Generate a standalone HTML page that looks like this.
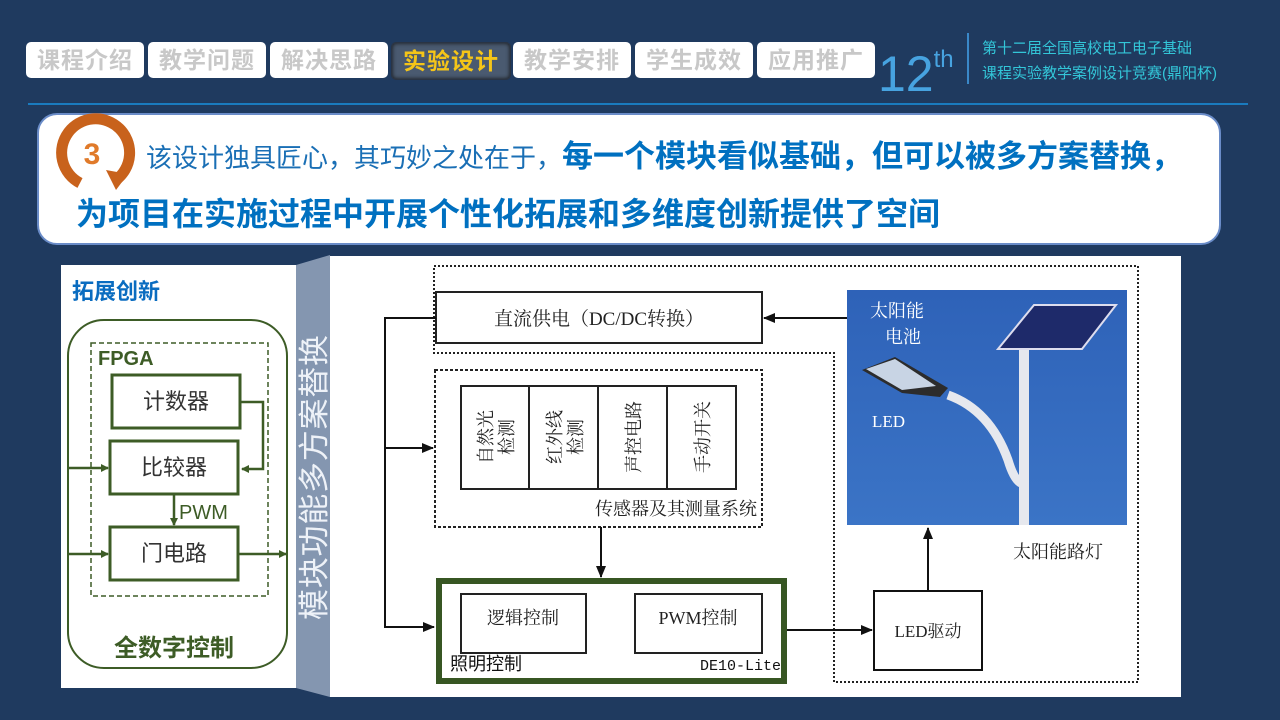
<!DOCTYPE html>
<html><head><meta charset="utf-8"><style>
html,body{margin:0;padding:0}
body{width:1280px;height:720px;background:#1f3a5f;overflow:hidden;position:relative;font-family:"Liberation Sans","Noto Sans CJK SC",sans-serif}
.tab{position:absolute;top:42px;height:36px;width:118px;background:#fff;border-radius:5px;color:#c8c8c8;font-weight:bold;font-size:23px;line-height:36px;text-align:center;letter-spacing:1px}
.tab.on{background:#4a5a70;color:#f5c518;box-shadow:inset 0 0 4px #111;border:1px solid #2a3444}
</style></head><body>
<div class="tab" style="left:26px">课程介绍</div>
<div class="tab" style="left:148px">教学问题</div>
<div class="tab" style="left:270px">解决思路</div>
<div class="tab on" style="left:391px">实验设计</div>
<div class="tab" style="left:513px">教学安排</div>
<div class="tab" style="left:635px">学生成效</div>
<div class="tab" style="left:757px">应用推广</div>
<div style="position:absolute;left:878px;top:32px;color:#47a3e0;font-size:50px;line-height:56px">12<sup style="font-size:24px;vertical-align:24px">th</sup></div>
<div style="position:absolute;left:967px;top:33px;width:2px;height:51px;background:#3a88c8"></div>
<div style="position:absolute;left:982px;top:36px;color:#33c6d8;font-size:15px;line-height:25px">第十二届全国高校电工电子基础<br>课程实验教学案例设计竞赛(鼎阳杯)</div>
<div style="position:absolute;left:28px;top:103px;width:1220px;height:2px;background:#1a7bbf"></div>
<div style="position:absolute;left:37px;top:113px;width:1180px;height:128px;background:#fff;border:2px solid #6a8cc8;border-radius:20px"></div>
<svg style="position:absolute;left:0;top:0" width="1280" height="720">
<path d="M80 183 A34 34 0 1 1 116 180" fill="none" stroke="#c8621c" stroke-width="11"/>
<polygon points="106,170 128,174 116,190" fill="#c8621c"/>
<text x="92" y="164" fill="#e07a2a" font-size="30" font-weight="bold" text-anchor="middle" font-family="Liberation Sans,sans-serif">3</text>
</svg>
<div style="position:absolute;left:146px;top:131px;font-size:26px;color:#1a6fb5;white-space:nowrap">该设计独具匠心，其巧妙之处在于，<b style="color:#0070c0;font-size:31px">每一个模块看似基础，但可以被多方案替换，</b></div>
<div style="position:absolute;left:76px;top:189px;font-size:32px;font-weight:bold;color:#0070c0;white-space:nowrap">为项目在实施过程中开展个性化拓展和多维度创新提供了空间</div>

<svg style="position:absolute;left:0;top:0" width="1280" height="720" font-family="Liberation Sans,'Noto Sans CJK SC',sans-serif">
<defs>
<marker id="ag" markerWidth="8" markerHeight="8" refX="7" refY="4" orient="auto" markerUnits="userSpaceOnUse"><path d="M0,0 L8,4 L0,8z" fill="#3d5c26"/></marker>
<marker id="ab" markerWidth="12" markerHeight="10" refX="11" refY="5" orient="auto" markerUnits="userSpaceOnUse"><path d="M0,0 L12,5 L0,10z" fill="#111"/></marker>
<linearGradient id="sky" x1="0" y1="0" x2="0" y2="1"><stop offset="0" stop-color="#2e62b8"/><stop offset="1" stop-color="#3b74c6"/></linearGradient>
</defs>
<rect x="61" y="265" width="235" height="423" fill="#fff"/>
<text x="72" y="299" font-size="22" font-weight="bold" fill="#0a6cc0">拓展创新</text>
<rect x="68" y="320" width="219" height="348" rx="36" fill="none" stroke="#3d5c26" stroke-width="2"/>
<rect x="91" y="343" width="177" height="253" fill="none" stroke="#3d5c26" stroke-width="1.5" stroke-dasharray="5,3"/>
<text x="98" y="365" font-size="20" font-weight="bold" fill="#3d5c26">FPGA</text>
<g stroke="#3d5c26" stroke-width="3" fill="#fff">
<rect x="112" y="375" width="128" height="53"/>
<rect x="110" y="441" width="128" height="53"/>
<rect x="110" y="527" width="128" height="53"/>
</g>
<g font-size="22" fill="#333" text-anchor="middle">
<text x="176" y="409">计数器</text><text x="174" y="475">比较器</text><text x="174" y="561">门电路</text></g>
<g stroke="#3d5c26" stroke-width="2.5" fill="none">
<path d="M240 402 H263 V469 H242" marker-end="url(#ag)"/>
<path d="M68 468 H108" marker-end="url(#ag)"/>
<path d="M68 554 H108" marker-end="url(#ag)"/>
<path d="M174 494 V525" marker-end="url(#ag)"/>
<path d="M238 554 H286" marker-end="url(#ag)"/>
</g>
<text x="179" y="519" font-size="20" fill="#3d5c26">PWM</text>
<text x="174" y="656" font-size="24" font-weight="bold" fill="#3d5c26" text-anchor="middle">全数字控制</text>
<polygon points="296,265 330,255 330,697 296,688" fill="#8496b0"/>
<text transform="translate(325,620) rotate(-90)" font-size="31" fill="#eef2f8" textLength="285" lengthAdjust="spacing">模块功能多方案替换</text>
<rect x="330" y="256" width="851" height="441" fill="#fff"/>
<path d="M434 266 H1138 V682 H834 V353 H434 Z" fill="none" stroke="#222" stroke-width="2" stroke-dasharray="2,2"/>
<rect x="436" y="292" width="326" height="51" fill="#fff" stroke="#222" stroke-width="2"/>
<text x="599" y="325" font-size="19" text-anchor="middle" fill="#222" font-family="'Liberation Serif','Noto Serif CJK SC',serif">直流供电（DC/DC转换）</text>
<rect x="435" y="370" width="327" height="157" fill="none" stroke="#222" stroke-width="2" stroke-dasharray="3,2"/>
<g stroke="#222" stroke-width="2" fill="none"><rect x="461" y="386" width="275" height="103"/><path d="M529 386V489M598 386V489M667 386V489"/></g>
<g font-size="18" fill="#222" font-family="'Liberation Serif','Noto Serif CJK SC',serif" text-anchor="middle">
<text transform="translate(492,437) rotate(-90)">自然光</text>
<text transform="translate(513,437) rotate(-90)">检测</text>
<text transform="translate(561,437) rotate(-90)">红外线</text>
<text transform="translate(582,437) rotate(-90)">检测</text>
<text transform="translate(640,437) rotate(-90)">声控电路</text>
<text transform="translate(709,437) rotate(-90)">手动开关</text>
<text x="757" y="515" text-anchor="end" font-size="18">传感器及其测量系统</text>
</g>
<rect x="439" y="581" width="345" height="100" fill="#fff" stroke="#375623" stroke-width="6"/>
<rect x="461" y="594" width="125" height="59" fill="#fff" stroke="#222" stroke-width="2"/>
<rect x="635" y="594" width="127" height="59" fill="#fff" stroke="#222" stroke-width="2"/>
<g font-family="'Liberation Serif','Noto Serif CJK SC',serif" fill="#222" font-size="18">
<text x="523" y="624" text-anchor="middle">逻辑控制</text>
<text x="698" y="624" text-anchor="middle">PWM控制</text>
</g>
<text x="450" y="670" font-size="18" fill="#111">照明控制</text>
<text x="781" y="670" font-size="15" fill="#111" text-anchor="end" font-family="'Liberation Mono',monospace">DE10-Lite</text>
<g stroke="#111" stroke-width="2" fill="none">
<path d="M436 318 H385 V627 H434" marker-end="url(#ab)"/>
<path d="M385 448 H433" marker-end="url(#ab)"/>
<path d="M848 318 H764" marker-end="url(#ab)"/>
<path d="M601 527 V577" marker-end="url(#ab)"/>
<path d="M787 630 H872" marker-end="url(#ab)"/>
<path d="M928 591 V528" marker-end="url(#ab)"/>
</g>
<rect x="874" y="591" width="108" height="79" fill="#fff" stroke="#111" stroke-width="2"/>
<text x="928" y="637" font-size="17" text-anchor="middle" fill="#222" font-family="'Liberation Serif','Noto Serif CJK SC',serif">LED驱动</text>
<text x="1013" y="558" font-size="18" fill="#222" font-family="'Liberation Serif','Noto Serif CJK SC',serif">太阳能路灯</text>
<rect x="847" y="290" width="280" height="235" fill="url(#sky)"/>
<polygon points="998,349 1034,305 1116,305 1082,349" fill="#1e2a6a" stroke="#dde" stroke-width="2"/>
<rect x="1019" y="350" width="10" height="175" fill="#e6e8ee"/>
<path d="M948 395 Q990 410 1008 460 Q1014 480 1021 483" stroke="#e6e8ee" stroke-width="9" fill="none"/>
<polygon points="862,370 895,357 948,388 940,397 902,393" fill="#2c2c2c"/>
<polygon points="866,369 895,359 936,386 902,390" fill="#c8d4e4"/>
<g fill="#fff" font-size="18" font-family="'Liberation Serif','Noto Serif CJK SC',serif">
<text x="870" y="317">太阳能</text><text x="885" y="343">电池</text><text x="872" y="427" font-size="17">LED</text></g>
</svg>
</body></html>
